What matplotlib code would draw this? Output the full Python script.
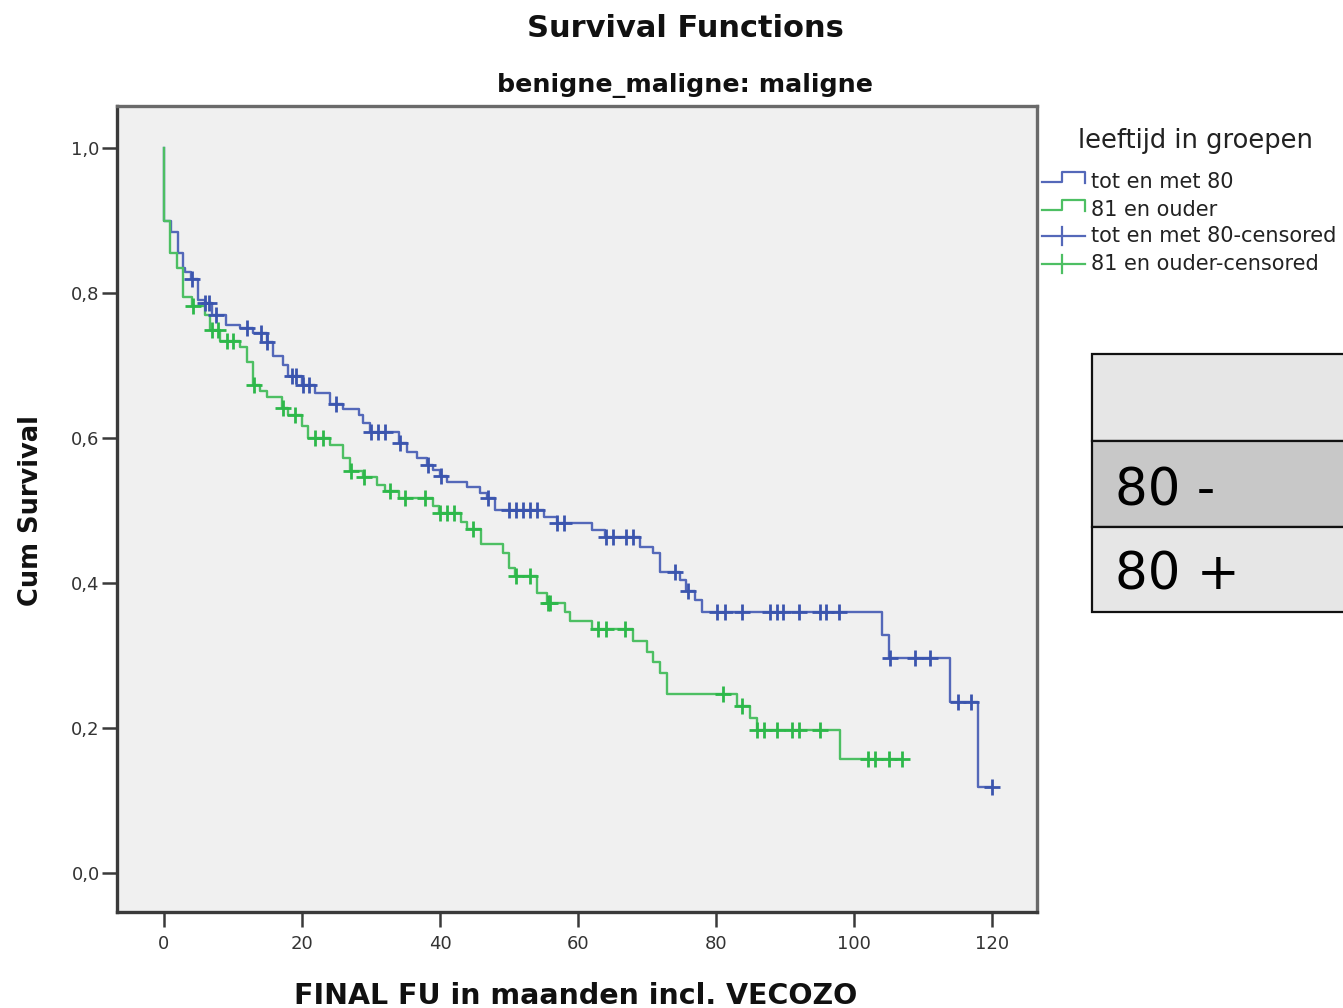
import matplotlib
matplotlib.use("Agg")
import matplotlib.pyplot as plt
import numpy as np
from matplotlib.lines import Line2D
from matplotlib.patches import Rectangle

# ---------------- data ----------------
group_labels = ["tot en met 80", "81 en ouder"]
censor_labels = ["tot en met 80-censored", "81 en ouder-censored"]

blue_times = [0, 0, 0.97, 2.07, 2.8, 3.0, 3.9, 5.0, 5.9, 6.9, 9.0, 11.0, 12.9, 14.9, 15.8,
              17.3, 18.0, 20.0, 21.9, 24.1, 26.0, 28.2, 28.9, 29.9, 34.0, 35.2, 36.6, 38.1,
              39.0, 40.0, 41.0, 43.9, 45.8, 46.8, 48.0, 55.0, 56.9, 62.0, 63.9, 69.0, 70.9,
              71.9, 74.8, 75.7, 77.0, 77.9, 104.0, 105.0, 113.9, 118.0]
blue_surv = [1.0, 0.90, 0.884, 0.855, 0.834, 0.829, 0.819, 0.79, 0.786, 0.77, 0.756, 0.752,
             0.745, 0.732, 0.713, 0.70, 0.686, 0.673, 0.662, 0.647, 0.64, 0.632, 0.62, 0.608,
             0.593, 0.58, 0.572, 0.563, 0.556, 0.547, 0.539, 0.532, 0.524, 0.517, 0.50, 0.491,
             0.483, 0.473, 0.464, 0.45, 0.441, 0.415, 0.404, 0.389, 0.377, 0.36, 0.328, 0.297,
             0.236, 0.119]
blue_censor = [4.0, 6.0, 6.5, 7.5, 12.0, 14.1, 15.0, 18.5, 19.2, 20.2, 21.0, 25.0, 30.0, 31.0,
               32.0, 34.2, 38.2, 40.2, 47.0, 50.0, 51.0, 52.0, 53.0, 54.0, 57.0, 58.0, 64.0,
               65.0, 67.0, 68.0, 74.0, 76.0, 80.1, 81.3, 83.7, 87.8, 88.8, 89.7, 92.0, 95.0,
               96.0, 97.8, 105.2, 108.8, 111.0, 115.0, 117.0, 120.0]

green_times = [0, 0, 0.87, 1.84, 2.8, 4.0, 5.9, 6.7, 8.1, 11.0, 12.0, 12.9, 13.9, 14.9, 17.1,
               18.0, 20.0, 20.9, 24.1, 25.9, 27.0, 28.9, 30.8, 32.0, 34.0, 39.0, 39.8, 43.1,
               43.9, 46.0, 49.1, 50.0, 50.9, 54.0, 55.5, 58.1, 58.8, 62.0, 68.0, 70.0, 70.9,
               71.9, 72.9, 83.0, 84.9, 85.9, 97.9]
green_surv = [1.0, 0.90, 0.855, 0.834, 0.794, 0.782, 0.77, 0.749, 0.734, 0.726, 0.705, 0.673,
              0.665, 0.657, 0.641, 0.632, 0.617, 0.60, 0.59, 0.572, 0.554, 0.546, 0.535, 0.527,
              0.517, 0.506, 0.496, 0.484, 0.474, 0.454, 0.441, 0.42, 0.41, 0.386, 0.372, 0.36,
              0.348, 0.336, 0.32, 0.305, 0.291, 0.276, 0.247, 0.23, 0.214, 0.197, 0.157]
green_censor = [4.2, 7.0, 7.8, 9.1, 10.0, 13.0, 17.3, 19.0, 21.9, 23.0, 27.1, 29.0, 32.8, 35.0,
                37.8, 40.0, 41.0, 42.0, 44.8, 51.0, 53.0, 55.6, 56.0, 62.9, 64.0, 66.8, 81.0,
                83.7, 86.0, 87.0, 88.8, 91.0, 92.0, 95.0, 102.0, 103.0, 105.0, 107.0]

x_ticks = [0, 20, 40, 60, 80, 100, 120]
y_ticks = [0.0, 0.2, 0.4, 0.6, 0.8, 1.0]
y_tick_labels = ["0,0", "0,2", "0,4", "0,6", "0,8", "1,0"]
table_rows = ["", "80 -", "80 +"]

# ---------------- style ----------------
W, H = 1343, 1008
line_cols = ["#5468B9", "#4DBF63"]
mark_cols = ["#3B55AE", "#2DB84A"]

fig = plt.figure(figsize=(W / 100, H / 100), dpi=100)
fig.patch.set_facecolor("white")


def fx(px):
    return px / W


def fy(py):
    return 1 - py / H


ax = fig.add_axes([fx(117), fy(912), 920 / W, 806 / H])
ax.set_facecolor("#F0F0F0")
ax.set_xlim(-6.8, 126.5)
ax.set_ylim(-0.054, 1.058)

series = [(blue_times, blue_surv, blue_censor), (green_times, green_surv, green_censor)]
for i, (t, s, c) in enumerate(series):
    t = np.asarray(t, float)
    s = np.asarray(s, float)
    c = np.asarray(c, float)
    end = max(c.max(), t.max())
    tt = np.append(t, end)
    ss = np.append(s, s[-1])
    ax.step(tt, ss, where="post", color=line_cols[i], lw=1.7, zorder=2)
    idx = np.searchsorted(t, c, side="right") - 1
    ax.plot(c, s[idx], linestyle="none", marker="+", ms=11, mew=2.0,
            color=mark_cols[i], zorder=3)

ax.set_xticks(x_ticks)
ax.set_xticklabels([str(v) for v in x_ticks])
ax.set_yticks(y_ticks)
ax.set_yticklabels(y_tick_labels)
ax.tick_params(axis="both", direction="out", length=10.5, width=1.8, color="#3a3a3a",
               labelsize=13, labelcolor="#333333")
ax.tick_params(axis="y", pad=2)
ax.tick_params(axis="x", pad=6)
for side in ["left", "bottom"]:
    ax.spines[side].set_color("#3a3a3a")
    ax.spines[side].set_linewidth(2.4)
for side in ["top", "right"]:
    ax.spines[side].set_color("#6a6a6a")
    ax.spines[side].set_linewidth(2.4)

# titles and axis labels
fig.text(fx(685), fy(37), "Survival Functions", ha="center", va="baseline",
         fontsize=22, fontweight="bold", color="#111111")
fig.text(fx(685), fy(92), "benigne_maligne: maligne", ha="center", va="baseline",
         fontsize=18.3, fontweight="bold", color="#111111")
fig.text(fx(576), fy(1004), "FINAL FU in maanden incl. VECOZO", ha="center", va="baseline",
         fontsize=20.5, fontweight="bold", color="#111111")
fig.text(fx(31), fy(511), "Cum Survival", ha="center", va="center", rotation=90,
         fontsize=18.5, fontweight="bold", color="#111111")

# legend (drawn manually)
fig.text(fx(1195), fy(148), "leeftijd in groepen", ha="center", va="baseline",
         fontsize=18.5, color="#222222")
x0, xm, x1 = 1042, 1062, 1085
for k, (lab, base) in enumerate(zip(group_labels, [182, 210])):
    xs = [x0, xm, xm, x1, x1]
    ys = [base, base, base - 10, base - 10, base + 1]
    fig.add_artist(Line2D([fx(v) for v in xs], [fy(v) for v in ys],
                          transform=fig.transFigure, color=line_cols[k], lw=1.6))
    fig.text(fx(1091), fy(base + 6), lab, ha="left", va="baseline", fontsize=15,
             color="#222222")
for k, (lab, base) in enumerate(zip(censor_labels, [236, 264])):
    fig.add_artist(Line2D([fx(x0), fx(x1)], [fy(base), fy(base)],
                          transform=fig.transFigure, color=line_cols[k], lw=1.6))
    fig.add_artist(Line2D([fx(xm), fx(xm)], [fy(base - 9), fy(base + 9)],
                          transform=fig.transFigure, color=line_cols[k], lw=1.6))
    fig.text(fx(1091), fy(base + 6), lab, ha="left", va="baseline", fontsize=15,
             color="#222222")

# table on the right
row_edges = [354, 441, 527, 612]
row_fill = ["#E6E6E6", "#C8C8C8", "#E6E6E6"]
for r in range(3):
    top, bot = row_edges[r], row_edges[r + 1]
    fig.add_artist(Rectangle((fx(1092), fy(bot)), fx(1360 - 1092), (bot - top) / H,
                             transform=fig.transFigure, facecolor=row_fill[r],
                             edgecolor="#111111", lw=1.6, clip_on=False))
    if table_rows[r]:
        fig.text(fx(1115), fy(bot - 22), table_rows[r], ha="left", va="baseline",
                 fontsize=37, color="#000000")

fig.savefig("out.png", dpi=100)
